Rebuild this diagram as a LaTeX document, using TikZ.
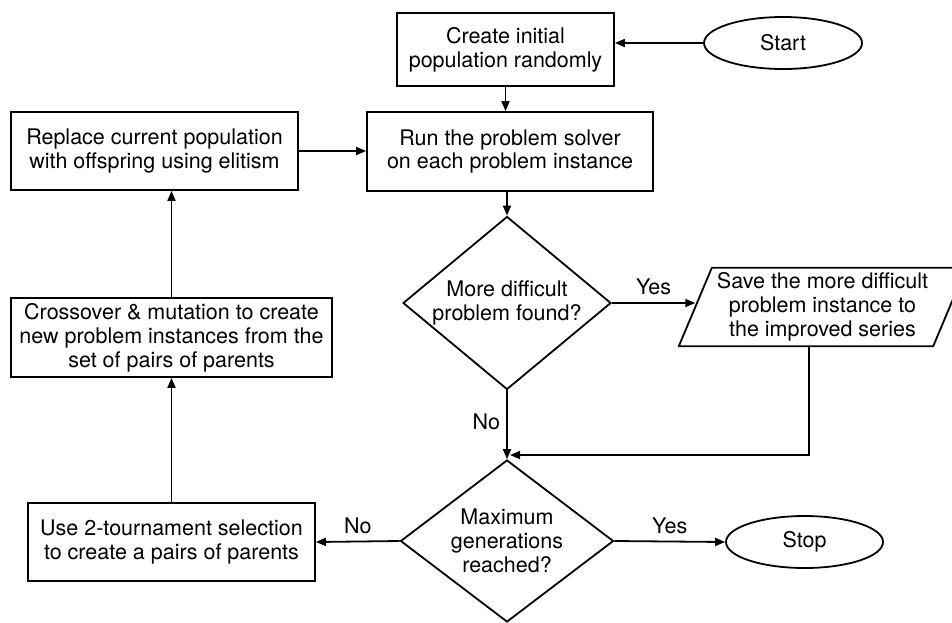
\documentclass[tikz,border=0pt]{standalone}
\usepackage{fontspec}
\setmainfont{TeX Gyre Heros}
\usetikzlibrary{shapes.geometric,arrows.meta,calc}
\begin{document}
\begin{tikzpicture}[x=1pt,y=-1pt,
  every node/.style={font=\fontsize{21.5pt}{24pt}\selectfont, align=center},
  line/.style={line width=1.8pt},
  arr/.style={line width=1.8pt,-{Triangle[length=10pt,width=8pt]}},
  procbox/.style={draw, line width=1.8pt, rectangle, inner sep=0pt},
  term/.style={draw, line width=1.8pt, ellipse, inner sep=0pt, minimum width=158pt, minimum height=52pt},
  decide/.style={draw, line width=1.8pt, diamond, inner sep=0pt},
  lbl/.style={inner sep=0pt}]
\useasboundingbox (0,0) rectangle (952,622);
\clip (0,0) rectangle (952,622);

\node[procbox, minimum width=217pt, minimum height=73pt] (create) at (505.5,49.5) {Create initial\\population randomly};
\node[term] (start) at (783,43) {Start};
\node[procbox, minimum width=286pt, minimum height=79pt] (run) at (510,151.5) {Run the problem solver\\on each problem instance};
\node[procbox, minimum width=287pt, minimum height=78pt] (replace) at (154.5,151) {Replace current population\\with offspring using elitism};
\node[decide, minimum width=208pt, minimum height=173pt, shape aspect=1.2] (d1) at (507,303) {More difficult\\problem found?};
\node[minimum width=254pt, minimum height=78pt, inner sep=0pt] (save) at (822.5,307) {Save the more difficult\\problem instance to\\the improved series};
\draw[line] ($(save.south west)+(-16.5,0)$) -- ($(save.north west)+(16.5,0)$) -- ($(save.north east)+(16.5,0)$) -- ($(save.south east)+(-16.5,0)$) -- cycle;
\node[procbox, minimum width=321pt, minimum height=79pt] (cross) at (171.5,337.5) {Crossover \& mutation to create\\new problem instances from the\\set of pairs of parents};
\node[decide, minimum width=213pt, minimum height=162pt, shape aspect=1.31] (d2) at (507,541) {Maximum\\generations\\reached?};
\node[procbox, minimum width=287pt, minimum height=78pt] (use) at (171.5,542) {Use 2-tournament selection\\to create a pairs of parents};
\node[term, minimum width=157pt] (stop) at (804.5,542) {Stop};

\coordinate (j) at (809,455);
\coordinate (m) at (510,455);

\draw[arr] (start.west) -- (start.west -| create.east);
\draw[arr] (create.south) -- (create.south |- run.north);
\draw[arr] (replace.east) -- (replace.east -| run.west);
\draw[arr] (d1.north |- run.south) -- (d1.north);
\draw[arr] (d1.east) -- ($(save.west)+(0,-4)$) node[lbl, midway, above=7pt] {Yes};
\draw[arr] (d1.south) -- (d2.north) node[lbl, pos=0.45, left=6pt] {No};
\draw[arr] (save.south -| j) |- (m);
\draw[arr] (d2.west) -- (use.east) node[lbl, midway, above=7pt] {No};
\draw[arr] (d2.east) -- (stop.west) node[lbl, midway, above=7pt] {Yes};
\draw[arr] (use.north) -- (cross.south);
\draw[arr] (cross.north) -- (cross.north |- replace.south);
\end{tikzpicture}
\end{document}
